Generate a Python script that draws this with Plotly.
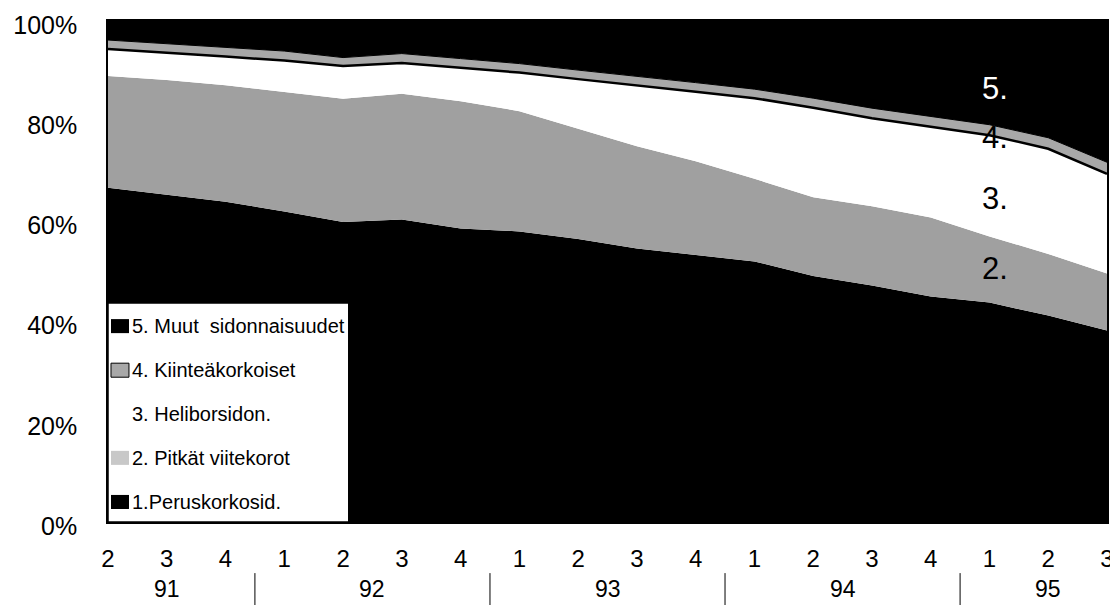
import plotly.graph_objects as go

# Quarters 1991 Q2 .. 1995 Q3
quarters = ["2", "3", "4", "1", "2", "3", "4", "1", "2", "3", "4", "1", "2", "3", "4", "1", "2", "3"]
years = ["91", "92", "93", "94", "95"]
year_centers = [1, 4.5, 8.5, 12.5, 16]
year_breaks = [2.5, 6.5, 10.5, 14.5]

# Shares, % of total
peruskorko = [66.7, 65.3, 63.9, 62.0, 59.9, 60.4, 58.6, 58.0, 56.5, 54.6, 53.3, 52.0, 49.1, 47.2, 45.0, 43.8, 41.2, 38.2]
pitkat = [22.3, 22.9, 23.3, 23.8, 24.6, 25.1, 25.4, 24.0, 22.0, 20.4, 18.7, 16.5, 15.7, 15.8, 15.8, 13.2, 12.3, 11.4]
helibor = [5.4, 5.5, 5.7, 6.3, 6.5, 6.1, 6.7, 7.7, 9.9, 12.2, 13.9, 16.1, 17.9, 17.6, 18.1, 20.2, 21.0, 19.9]
kiintea = [1.8, 1.8, 1.9, 1.9, 1.7, 1.9, 1.8, 1.8, 1.8, 1.8, 1.8, 1.8, 1.9, 2.0, 2.1, 2.1, 2.2, 2.3]
muut = [3.8, 4.5, 5.2, 6.0, 7.3, 6.5, 7.5, 8.5, 9.8, 11.0, 12.3, 13.6, 15.4, 17.4, 19.0, 20.7, 23.3, 28.2]

x = list(range(len(quarters)))
FONT = "Liberation Sans, Arial, sans-serif"

fig = go.Figure()

series = [
    ("1.Peruskorkosid.", peruskorko, "black", "black", 0),
    ("2. Pitkät viitekorot", pitkat, "#a0a0a0", "#c8c8c8", 0),
    ("3. Heliborsidon.", helibor, "white", None, 0),
    ("4. Kiinteäkorkoiset", kiintea, "#a8a8a8", "#a8a8a8", 1),
    ("5. Muut\u00a0 sidonnaisuudet", muut, "black", "black", 0),
]
for name, vals, fill, icon, lw in series:
    fig.add_trace(
        go.Scatter(
            x=x,
            y=vals,
            name=name,
            stackgroup="one",
            mode="lines",
            fillcolor=fill,
            line=dict(color="black", width=lw),
            showlegend=False,
            hoverinfo="skip",
        )
    )

# black edge between 3. and 4.
top3 = [a + b + c for a, b, c in zip(peruskorko, pitkat, helibor)]
fig.add_trace(
    go.Scatter(x=x, y=top3, mode="lines", line=dict(color="black", width=2.5),
               showlegend=False, hoverinfo="skip")
)

# boxed legend in the lower left corner, 5. on top
fig.add_shape(type="rect", xref="paper", yref="paper", x0=0, x1=0.241, y0=0, y1=0.437,
              fillcolor="white", line=dict(color="black", width=1.5))
row_y = [0.391, 0.303, 0.216, 0.128, 0.040]
for ry, (name, vals, fill, icon, lw) in zip(row_y, reversed(series)):
    if icon is not None:
        fig.add_shape(type="rect", xref="paper", yref="paper",
                      x0=0.003, x1=0.021, y0=ry - 0.014, y1=ry + 0.014,
                      fillcolor=icon, line=dict(color="black", width=lw))
    fig.add_annotation(x=0.022, y=ry, xref="paper", yref="paper", text=name,
                       xanchor="left", yanchor="middle", showarrow=False,
                       font=dict(family=FONT, size=20, color="black"))

# labels at right end
for txt, yy, col in [("5.", 86.5, "white"), ("4.", 76.7, "black"), ("3.", 64.5, "black"), ("2.", 50.6, "black")]:
    fig.add_annotation(x=15.1, y=yy, text=txt, showarrow=False,
                       xanchor="center", yanchor="middle",
                       font=dict(family=FONT, size=31, color=col))

# year labels and separators
for yr, c in zip(years, year_centers):
    fig.add_annotation(x=c, y=-0.133, xref="x", yref="paper", text=yr, showarrow=False,
                       xanchor="center", yanchor="middle",
                       font=dict(family=FONT, size=23, color="black"))
for b in year_breaks:
    fig.add_shape(type="line", x0=b, x1=b, xref="x", yref="paper", y0=-0.102, y1=-0.17,
                  line=dict(color="black", width=1))

# page body has an 8px margin, so the figure is 8px smaller than the window
fig.update_layout(
    width=1110,
    height=597,
    margin=dict(l=100, r=11, t=13, b=83),
    paper_bgcolor="white",
    plot_bgcolor="white",
    font=dict(family=FONT, color="black"),
    showlegend=False,
    xaxis=dict(
        range=[0, 17],
        tickvals=x,
        ticktext=quarters,
        ticks="",
        showgrid=False,
        zeroline=False,
        showline=True,
        linecolor="black",
        linewidth=1.5,
        mirror=True,
        automargin=False,
        ticklabelstandoff=14,
        ticklabeloverflow="allow",
        tickfont=dict(family=FONT, size=24, color="black"),
    ),
    yaxis=dict(
        range=[0, 100],
        tickvals=[0, 20, 40, 60, 80, 100],
        ticktext=["0%", "20%", "40%", "60%", "80%", "100%"],
        ticks="",
        showgrid=False,
        zeroline=False,
        showline=True,
        linecolor="black",
        linewidth=1.5,
        mirror=True,
        automargin=False,
        ticklabelstandoff=24,
        ticklabelshift=4,
        ticklabeloverflow="allow",
        tickfont=dict(family=FONT, size=25, color="black"),
    ),
)

fig.write_html("out.html")
